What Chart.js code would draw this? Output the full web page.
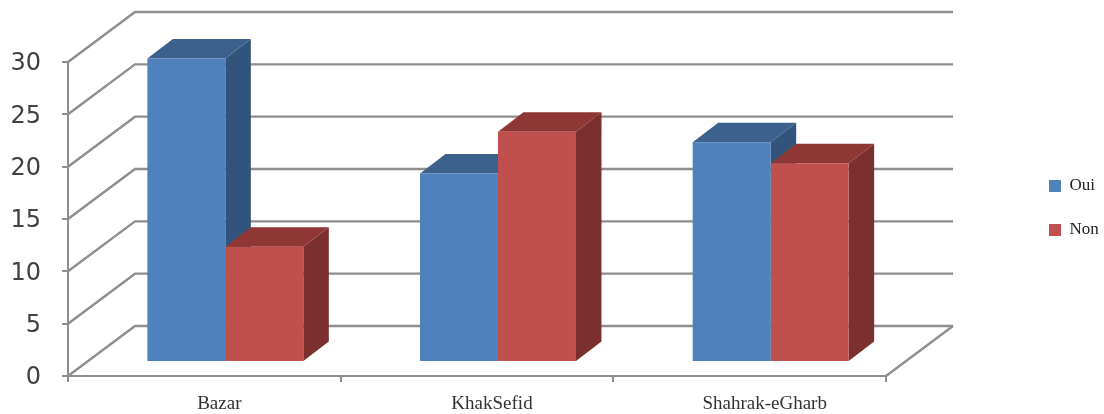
<!DOCTYPE html>
<html><head><meta charset="utf-8">
<style>html,body{margin:0;padding:0;background:#fff}canvas{display:block;filter:blur(0.5px)}</style>
<script src="https://cdn.jsdelivr.net/npm/chart.js@4"></script></head>
<body><canvas id="c" width="1104" height="414"></canvas>
<script>
const categories = ["Bazar", "KhakSefid", "Shahrak-eGharb"];
const oui = [29, 18, 21];
const non = [11, 22, 19];
const seriesNames = ["Oui", "Non"];
const frontColors = ["#4F81BD", "#C0504D"];
const topColors = ["#3D618D", "#8E3735"];
const sideColors = ["#32547C", "#7B2F2E"];
const gridColor = "#8E8E8E";
const wallDX = 67, wallDY = -50, wallW = 953;
const barDX = 21, barDY = -14, depthX = 25.5, depthY = -19.5;

const scene = {
  id: "scene",
  beforeLayout(chart) {
    const lg = chart.legend;
    if (!lg._wide) {
      const fit = lg.fit;
      lg.fit = function () { fit.call(this); this.width = 218; };
      lg._wide = true;
    }
  },
  afterLayout(chart) {
    const lg = chart.legend;
    lg.left = 1049 - chart.options.plugins.legend.labels.padding;
    lg.top -= 30; lg.bottom -= 30;
  },
  beforeDatasetsDraw(chart) {
    const { ctx, scales: { x, y } } = chart;
    const left = x.left, right = x.right, y0 = y.getPixelForValue(0);
    ctx.save();
    ctx.strokeStyle = gridColor; ctx.lineWidth = 2.4;
    y.ticks.forEach(t => {
      const py = y.getPixelForValue(t.value);
      ctx.beginPath();
      ctx.moveTo(left, py);
      ctx.lineTo(left + wallDX, py + wallDY);
      ctx.lineTo(wallW, py + wallDY);
      ctx.stroke();
    });
    ctx.beginPath();
    ctx.moveTo(wallW, y0 + wallDY);
    ctx.lineTo(right, y0);
    ctx.stroke();
    chart.data.datasets.forEach((d, i) => {
      chart.getDatasetMeta(i).data.forEach(b => {
        const l = b.x - b.width / 2 + barDX, r = b.x + b.width / 2 + barDX;
        const t = b.y + barDY, bt = b.base + barDY;
        ctx.fillStyle = sideColors[i];
        ctx.beginPath();
        ctx.moveTo(r, t); ctx.lineTo(r + depthX, t + depthY);
        ctx.lineTo(r + depthX, bt + depthY); ctx.lineTo(r, bt);
        ctx.closePath(); ctx.fill();
        ctx.fillStyle = topColors[i];
        ctx.beginPath();
        ctx.moveTo(l, t); ctx.lineTo(l + depthX, t + depthY);
        ctx.lineTo(r + depthX, t + depthY); ctx.lineTo(r, t);
        ctx.closePath(); ctx.fill();
      });
    });
    ctx.restore();
    ctx.save();
    ctx.translate(barDX, barDY);
  },
  afterDatasetsDraw(chart) { chart.ctx.restore(); }
};

new Chart(document.getElementById("c"), {
  type: "bar",
  data: {
    labels: categories,
    datasets: [
      { label: seriesNames[0], data: oui, backgroundColor: frontColors[0], clip: false },
      { label: seriesNames[1], data: non, backgroundColor: frontColors[1], clip: false }
    ]
  },
  options: {
    responsive: false, animation: false,
    layout: { padding: { top: 62, left: 0, right: 0, bottom: 0 } },
    datasets: { bar: { categoryPercentage: 0.572, barPercentage: 1 } },
    scales: {
      x: {
        afterFit(s) { s.height = 38; },
        border: { color: gridColor, width: 2 },
        grid: { drawOnChartArea: false, color: gridColor, lineWidth: 2, tickLength: 6 },
        ticks: { color: "#333", padding: 11, labelOffset: 15, maxRotation: 0, font: { family: "Liberation Serif", size: 19 } }
      },
      y: {
        min: 0, max: 30,
        afterFit(s) { s.width = 68; },
        border: { color: gridColor, width: 2 },
        grid: { drawOnChartArea: false, color: gridColor, lineWidth: 2, tickLength: 6 },
        ticks: { stepSize: 5, color: "#404040", padding: 21, labelOffset: 2, font: { family: "DejaVu Sans", size: 24 } }
      }
    },
    plugins: {
      title: { display: false },
      tooltip: { enabled: false },
      legend: {
        position: "right",
        labels: { boxWidth: 12, boxHeight: 12, padding: 27, color: "#222", font: { family: "Liberation Serif", size: 17 } }
      }
    }
  },
  plugins: [scene]
});
</script></body></html>
